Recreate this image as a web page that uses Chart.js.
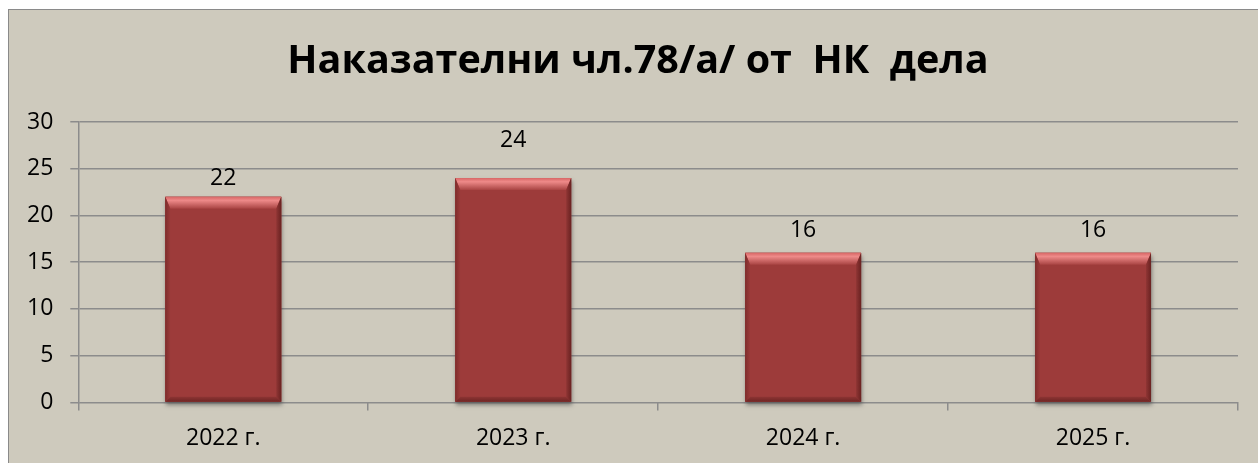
<!DOCTYPE html>
<html lang="bg">
<head>
<meta charset="UTF-8">
<title>Наказателни чл.78/а/ от НК дела</title>
<script src="https://cdn.jsdelivr.net/npm/chart.js"></script>
<style>
    html, body { margin: 0; padding: 0; background: #fff; overflow: hidden; }
    .frame { position: absolute; left: 8px; top: 9px; width: 1400px; height: 600px;
             background: #cecabd; border: 1px solid #8a8a8a; }
    .wrap { position: absolute; left: 0; top: 0; width: 1258px; height: 463px; }
</style>
</head>
<body>
<div class="frame"></div>
<div class="wrap"><canvas id="chart"></canvas></div>
<script>
    // данни
    const years = ['2022 г.', '2023 г.', '2024 г.', '2025 г.'];
    const cases = [22, 24, 16, 16];
    const yTicks = [0, 5, 10, 15, 20, 25, 30];
    const chartTitle = 'Наказателни чл.78/а/ от  НК  дела';

    // отстояние на надписите над колоните (както е в оригинала)
    const labelGap = [12, 31, 16, 16];

    const FONT = '"Open Sans", "DejaVu Sans", sans-serif';

    // заглавие - центрирано спрямо рамката на диаграмата (тя продължава вдясно)
    const titlePlugin = {
        id: 'frameTitle',
        afterDraw(chart) {
            const ctx = chart.ctx;
            ctx.save();
            ctx.font = 'bold 39.5px ' + FONT;
            ctx.fillStyle = '#000';
            ctx.textAlign = 'center';
            ctx.textBaseline = 'middle';
            ctx.fillText(chartTitle, 638, 62);
            ctx.restore();
        }
    };

    // объемен ефект на колоните
    const bevelPlugin = {
        id: 'bevel',
        beforeDatasetsDraw(chart) {
            const ctx = chart.ctx;
            chart.getDatasetMeta(0).data.forEach(bar => {
                const l = bar.x - bar.width / 2, r = bar.x + bar.width / 2;
                ctx.save();
                ctx.shadowColor = 'rgba(60,60,60,0.55)';
                ctx.shadowBlur = 4;
                ctx.shadowOffsetX = 1;
                ctx.shadowOffsetY = 3;
                ctx.fillStyle = '#8a3433';
                ctx.fillRect(l, bar.y, r - l, bar.base - bar.y);
                ctx.restore();
            });
        },
        afterDatasetsDraw(chart) {
            const ctx = chart.ctx;
            chart.getDatasetMeta(0).data.forEach(bar => {
                const l = bar.x - bar.width / 2, r = bar.x + bar.width / 2;
                const t = bar.y, b = bar.base;
                const s = 5, tp = 12, bt = 5;
                ctx.save();
                // горе
                let g = ctx.createLinearGradient(0, t, 0, t + tp);
                g.addColorStop(0, '#d86766');
                g.addColorStop(0.3, '#ee8a89');
                g.addColorStop(1, '#a84342');
                ctx.fillStyle = g;
                ctx.beginPath();
                ctx.moveTo(l, t); ctx.lineTo(r, t); ctx.lineTo(r - s, t + tp); ctx.lineTo(l + s, t + tp);
                ctx.closePath(); ctx.fill();
                // ляво
                g = ctx.createLinearGradient(l, 0, l + s, 0);
                g.addColorStop(0, '#7e2c2b');
                g.addColorStop(1, '#9a3a39');
                ctx.fillStyle = g;
                ctx.beginPath();
                ctx.moveTo(l, t); ctx.lineTo(l + s, t + tp); ctx.lineTo(l + s, b - bt); ctx.lineTo(l, b);
                ctx.closePath(); ctx.fill();
                // дясно
                g = ctx.createLinearGradient(r - s, 0, r, 0);
                g.addColorStop(0, '#8f3534');
                g.addColorStop(1, '#6a2221');
                ctx.fillStyle = g;
                ctx.beginPath();
                ctx.moveTo(r, t); ctx.lineTo(r - s, t + tp); ctx.lineTo(r - s, b - bt); ctx.lineTo(r, b);
                ctx.closePath(); ctx.fill();
                // долу
                g = ctx.createLinearGradient(0, b - bt, 0, b);
                g.addColorStop(0, '#8e3534');
                g.addColorStop(1, '#6e2524');
                ctx.fillStyle = g;
                ctx.beginPath();
                ctx.moveTo(l, b); ctx.lineTo(l + s, b - bt); ctx.lineTo(r - s, b - bt); ctx.lineTo(r, b);
                ctx.closePath(); ctx.fill();
                ctx.restore();
            });
        }
    };

    // стойности над колоните
    const valueLabels = {
        id: 'valueLabels',
        afterDatasetsDraw(chart) {
            const ctx = chart.ctx;
            const ds = chart.data.datasets[0];
            ctx.save();
            ctx.font = '23px ' + FONT;
            ctx.fillStyle = '#000';
            ctx.textAlign = 'center';
            ctx.textBaseline = 'bottom';
            chart.getDatasetMeta(0).data.forEach((bar, i) => {
                ctx.fillText(String(ds.data[i]), bar.x, bar.y - labelGap[i] + 5);
            });
            ctx.restore();
        }
    };

    new Chart(document.getElementById('chart'), {
        type: 'bar',
        data: {
            labels: years,
            datasets: [{
                data: cases,
                backgroundColor: '#9d3b3a',
                borderWidth: 0,
                barPercentage: 0.4,
                categoryPercentage: 1.0
            }]
        },
        options: {
            responsive: true,
            maintainAspectRatio: false,
            animation: false,
            layout: { padding: { left: 10, right: 20, top: 122, bottom: -3 } },
            plugins: {
                legend: { display: false },
                tooltip: { enabled: false },
                title: { display: false }
            },
            scales: {
                x: {
                    grid: {
                        offset: true,
                        drawOnChartArea: false,
                        drawTicks: true,
                        tickLength: 8,
                        color: '#8c8c8c',
                        lineWidth: 1.5
                    },
                    border: { display: false },
                    ticks: { color: '#000', font: { family: FONT, size: 23 }, padding: 14 }
                },
                y: {
                    min: 0,
                    max: 30,
                    afterBuildTicks(axis) { axis.ticks = yTicks.map(v => ({ value: v })); },
                    grid: { color: '#8c8c8c', lineWidth: 1.5, tickLength: 8 },
                    border: { display: true, color: '#8c8c8c', width: 1.5 },
                    ticks: { color: '#000', font: { family: FONT, size: 23 }, padding: 17 }
                }
            }
        },
        plugins: [bevelPlugin, valueLabels, titlePlugin]
    });
</script>
</body>
</html>
